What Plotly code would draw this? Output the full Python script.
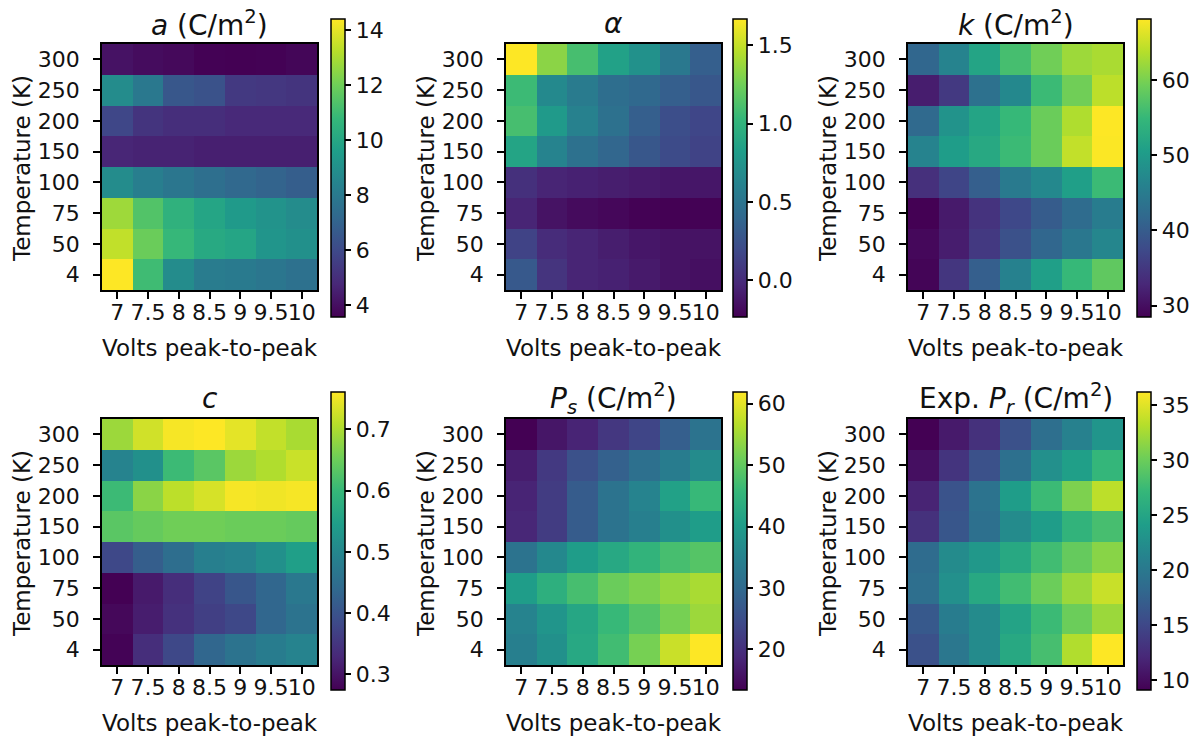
import plotly.graph_objects as go

W, H = 1203, 738

volts = ["7", "7.5", "8", "8.5", "9", "9.5", "10"]
temps = ["300", "250", "200", "150", "100", "75", "50", "4"]  # top to bottom

a_vals = [
    [4.1, 3.9, 3.8, 3.6, 3.56, 3.6, 3.7],
    [8.8, 7.9, 6.5, 6.3, 5.4, 5.3, 5.2],
    [5.9, 5.2, 5.0, 5.0, 4.8, 4.8, 4.8],
    [4.7, 4.6, 4.6, 4.5, 4.5, 4.5, 4.5],
    [8.8, 8.2, 7.8, 7.5, 7.2, 7.0, 6.8],
    [12.8, 11.4, 10.5, 9.9, 9.4, 9.1, 8.8],
    [13.4, 11.9, 10.8, 10.1, 9.9, 9.2, 9.0],
    [14.4, 11.0, 8.8, 8.1, 8.0, 7.8, 7.6],
]
alpha_vals = [
    [1.667, 1.33, 1.10, 0.85, 0.72, 0.53, 0.34],
    [1.06, 0.66, 0.55, 0.45, 0.41, 0.34, 0.28],
    [1.10, 0.79, 0.60, 0.47, 0.34, 0.22, 0.17],
    [0.87, 0.62, 0.47, 0.39, 0.28, 0.20, 0.15],
    [0.03, -0.04, -0.06, -0.08, -0.10, -0.12, -0.12],
    [-0.04, -0.14, -0.18, -0.20, -0.23, -0.235, -0.23],
    [0.15, 0.0, -0.04, -0.08, -0.12, -0.14, -0.14],
    [0.30, 0.05, -0.04, -0.06, -0.10, -0.14, -0.16],
]
k_vals = [
    [41.6, 46.3, 51.5, 56.2, 59.4, 62.2, 63.0],
    [31.7, 35.2, 43.2, 47.1, 55.4, 59.4, 64.1],
    [42.0, 48.7, 51.5, 55.0, 59.0, 63.3, 68.1],
    [46.3, 50.3, 52.3, 55.4, 59.0, 64.5, 68.0],
    [34.0, 36.8, 40.4, 44.7, 47.1, 50.7, 55.4],
    [28.5, 31.3, 34.4, 37.2, 40.0, 42.4, 45.1],
    [29.3, 31.7, 35.2, 38.4, 41.6, 44.3, 46.7],
    [28.9, 34.8, 40.4, 45.9, 50.7, 55.0, 58.2],
]
c_vals = [
    [0.688, 0.727, 0.756, 0.761, 0.742, 0.717, 0.698],
    [0.493, 0.518, 0.605, 0.634, 0.688, 0.703, 0.722],
    [0.605, 0.674, 0.712, 0.732, 0.756, 0.751, 0.756],
    [0.634, 0.644, 0.654, 0.654, 0.649, 0.649, 0.644],
    [0.381, 0.420, 0.450, 0.484, 0.493, 0.518, 0.547],
    [0.275, 0.309, 0.338, 0.372, 0.406, 0.435, 0.469],
    [0.284, 0.313, 0.343, 0.367, 0.381, 0.435, 0.459],
    [0.277, 0.338, 0.381, 0.435, 0.459, 0.479, 0.493],
]
ps_vals = [
    [13.4, 16.3, 18.3, 21.2, 23.6, 28.0, 31.8],
    [17.3, 21.6, 25.5, 28.4, 31.3, 33.8, 36.7],
    [18.3, 22.1, 27.5, 31.8, 35.2, 41.0, 45.9],
    [18.7, 22.1, 27.5, 31.8, 34.3, 37.7, 40.1],
    [31.8, 36.2, 40.1, 42.5, 44.9, 47.4, 48.8],
    [40.1, 44.0, 47.4, 50.7, 52.2, 54.1, 55.6],
    [35.2, 38.6, 42.0, 45.9, 48.8, 51.7, 54.6],
    [34.3, 37.7, 42.5, 46.9, 51.7, 58.0, 61.9],
]
pr_vals = [
    [9.1, 11.0, 12.9, 15.9, 18.9, 21.0, 23.2],
    [10.2, 13.2, 15.9, 19.1, 22.6, 24.3, 27.0],
    [11.8, 16.1, 19.4, 24.0, 27.5, 30.8, 33.5],
    [12.9, 16.4, 19.1, 22.1, 24.0, 26.7, 28.1],
    [18.6, 22.1, 23.5, 25.4, 27.8, 29.7, 31.3],
    [18.9, 22.6, 25.4, 27.8, 30.0, 32.1, 34.0],
    [16.7, 20.5, 22.1, 24.8, 27.5, 30.0, 32.1],
    [15.9, 19.9, 22.1, 25.4, 28.1, 33.0, 36.2],
]

titles = [
    "<i>a</i> (C/m<sup>2</sup>)",
    "<i>α</i>",
    "<i>k</i> (C/m<sup>2</sup>)",
    "<i>c</i>",
    "<i>P<sub>s</sub></i> (C/m<sup>2</sup>)",
    "Exp. <i>P<sub>r</sub></i> (C/m<sup>2</sup>)",
]
data = [a_vals, alpha_vals, k_vals, c_vals, ps_vals, pr_vals]
zranges = [(3.56, 14.4), (-0.235, 1.667), (28.5, 68.1), (0.2745, 0.761), (13.4, 61.9), (9.1, 36.2)]
cticks = [
    [4, 6, 8, 10, 12, 14],
    [0.0, 0.5, 1.0, 1.5],
    [30, 40, 50, 60],
    [0.3, 0.4, 0.5, 0.6, 0.7],
    [20, 30, 40, 50, 60],
    [10, 15, 20, 25, 30, 35],
]
cfmt = ["d", ".1f", "d", ".1f", "d", "d"]

# layout geometry in pixels
hm_left = [102, 506, 908]
hm_w = 215
rows_top = [44, 419]
hm_h = 246
cb_left = [331, 733, 1137]
cb_top = [19, 392]
cb_len = 298

FONT = "DejaVu Sans"
TXT = "#111111"


def px(x):
    return x / W


def py(y):
    return 1 - y / H


fig = go.Figure()
annotations = []
for i in range(6):
    r, c = divmod(i, 3)
    n = i + 1
    xa = "x" if n == 1 else f"x{n}"
    ya = "y" if n == 1 else f"y{n}"
    x0, x1 = hm_left[c], hm_left[c] + hm_w
    y0, y1 = rows_top[r], rows_top[r] + hm_h
    cbx = cb_left[c]
    cby = cb_top[r] + cb_len / 2
    fig.add_trace(go.Heatmap(
        z=data[i], x=volts, y=temps, xaxis=xa, yaxis=ya,
        colorscale="Viridis", zmin=zranges[i][0], zmax=zranges[i][1],
        hoverinfo="skip",
        colorbar=dict(
            x=px(cbx), xanchor="left", xpad=0, xref="paper",
            y=py(cby), yanchor="middle", ypad=0, yref="paper",
            len=cb_len, lenmode="pixels", thickness=14, thicknessmode="pixels",
            outlinewidth=1.5, outlinecolor="black",
            ticks="outside", ticklen=6, tickwidth=1.5, tickcolor="black",
            tickmode="array", tickvals=cticks[i], tickformat=cfmt[i],
            tickfont=dict(family=FONT, size=22, color=TXT),
        ),
    ))
    axis_common = dict(
        showline=True, mirror=True, linecolor="black", linewidth=1.5,
        ticks="outside", ticklen=7, tickwidth=1.5, tickcolor="black",
        showgrid=False, zeroline=False, tickangle=0,
        tickfont=dict(family=FONT, size=22, color=TXT),
        type="category",
    )
    fig.layout[("xaxis" if n == 1 else f"xaxis{n}")] = dict(
        axis_common, domain=[px(x0), px(x1)], anchor=ya,
        range=[-0.5, 6.5], tickmode="array", tickvals=volts, ticktext=volts,
        ticklabelstandoff=-5,
    )
    fig.layout[("yaxis" if n == 1 else f"yaxis{n}")] = dict(
        axis_common, domain=[py(y1), py(y0)], anchor=xa,
        range=[7.5, -0.5], tickmode="array", tickvals=temps, ticktext=temps,
        ticklabelstandoff=9,
    )
    cx = (x0 + x1) / 2
    annotations.append(dict(
        text=titles[i], x=px(cx), y=py(y0 - 21), xref="paper", yref="paper",
        xanchor="center", yanchor="middle", showarrow=False,
        font=dict(family=FONT, size=28, color=TXT),
    ))
    annotations.append(dict(
        text="Volts peak-to-peak", x=px(cx), y=py(y1 + 58), xref="paper", yref="paper",
        xanchor="center", yanchor="middle", showarrow=False,
        font=dict(family=FONT, size=23, color=TXT),
    ))
    annotations.append(dict(
        text="Temperature (K)", x=px(x0 - 80), y=py((y0 + y1) / 2 + 2), xref="paper", yref="paper",
        xanchor="center", yanchor="middle", showarrow=False, textangle=-90,
        font=dict(family=FONT, size=23, color=TXT),
    ))

fig.update_layout(
    width=W, height=H,
    margin=dict(l=0, r=0, t=0, b=0),
    paper_bgcolor="white", plot_bgcolor="white",
    annotations=annotations,
    showlegend=False,
    font=dict(family=FONT, color=TXT),
)

fig.write_html(
    "out.html",
    config={"displayModeBar": False},
    post_script="document.body.style.margin='0';document.body.style.padding='0';",
)
